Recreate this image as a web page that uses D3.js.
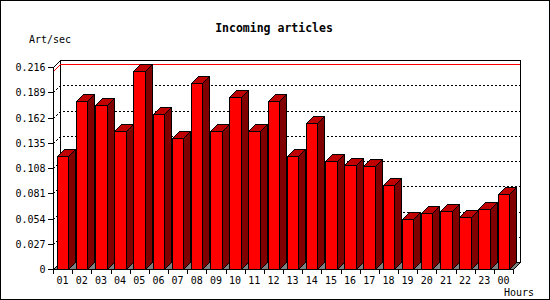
<!DOCTYPE html>
<html>
<head>
<meta charset="utf-8">
<script src="https://cdn.jsdelivr.net/npm/d3@7"></script>
<style>
html,body{margin:0;padding:0;background:#fff;}
svg{display:block;}
text{font-family:"DejaVu Sans Mono",monospace;}
</style>
</head>
<body>
<script>
const categories = ["01","02","03","04","05","06","07","08","09","10","11","12","13","14","15","16","17","18","19","20","21","22","23","00"];
const values = [0.121,0.180,0.175,0.148,0.2115,0.166,0.140,0.199,0.148,0.184,0.148,0.180,0.121,0.156,0.116,0.111,0.110,0.090,0.054,0.060,0.062,0.056,0.064,0.080];
const yTicks = [0,0.027,0.054,0.081,0.108,0.135,0.162,0.189,0.216];
const yTickLabels = ["0","0.027","0.054","0.081","0.108","0.135","0.162","0.189","0.216"];
const chartTitle = "Incoming articles";
const yTitle = "Art/sec";
const xTitle = "Hours";

const W = 550, H = 300;
const depth = 7;
const pLeft = 53, pRight = 513, pBottom = 269, pTop = 67;

const svg = d3.select("body").append("svg").attr("width", W).attr("height", H);

const x = d3.scaleBand().domain(categories).range([pLeft, pRight]);
const y = d3.scaleLinear().domain([0, 0.216]).range([pBottom, pTop]);

// outer border
svg.append("rect").attr("x",0.5).attr("y",0.5).attr("width",548.5).attr("height",298.5)
  .attr("fill","#fff").attr("stroke","#000").attr("shape-rendering","crispEdges");

svg.append("text").attr("x",274).attr("y",32).attr("text-anchor","middle")
  .attr("font-weight","bold").attr("font-size","11.5px").text(chartTitle);
svg.append("text").attr("x",29).attr("y",42.5).attr("font-size","10px").text(yTitle);
svg.append("text").attr("x",504).attr("y",295.5).attr("font-size","10px").text(xTitle);

const g = svg.append("g");

// back wall
g.append("rect").attr("x",pLeft+depth+0.5).attr("y",y(0.216)-depth+0.5)
  .attr("width",pRight-pLeft).attr("height",pBottom-pTop)
  .attr("fill","#fff").attr("stroke","#000").attr("shape-rendering","crispEdges");

// grid lines (dotted) on back wall + diagonals
const gridVals = yTicks.filter(v => v > 0 && v < 0.216);
g.selectAll(".grid").data(gridVals).enter().append("path")
  .attr("d", v => {
    const yf = Math.round(y(v)) + 0.5, yb = yf - depth;
    return `M${pLeft+0.5},${yf}L${pLeft+depth+0.5},${yb}L${pRight+depth+0.5},${yb}`;
  })
  .attr("fill","none").attr("stroke","#000").attr("stroke-dasharray","2,2")
  .attr("shape-rendering","crispEdges");

// top-left box edge
g.append("line").attr("x1",pLeft+0.5).attr("y1",Math.round(y(0.216))+0.5)
  .attr("x2",pLeft+depth+0.5).attr("y2",Math.round(y(0.216))-depth+0.5)
  .attr("stroke","#000").attr("shape-rendering","crispEdges");

// max line (red)
const maxV = d3.max(values);
{
  const yf = Math.round(y(maxV)) + 0.5, yb = yf - depth;
  g.append("path").attr("d",`M${pLeft+0.5},${yf}L${pLeft+depth+0.5},${yb}L${pRight+depth-0.5},${yb}`)
    .attr("fill","none").attr("stroke","#ff0000").attr("shape-rendering","crispEdges");
}

// floor
g.append("path")
  .attr("d",`M${pLeft+0.5},${pBottom+0.5}L${pLeft+depth+0.5},${pBottom-depth+0.5}L${pRight+depth+0.5},${pBottom-depth+0.5}L${pRight+0.5},${pBottom+0.5}Z`)
  .attr("fill","#808080").attr("stroke","#000").attr("shape-rendering","crispEdges");

// y axis (front)
g.append("line").attr("x1",pLeft+0.5).attr("x2",pLeft+0.5).attr("y1",Math.round(y(0.216))+0.5).attr("y2",pBottom+0.5)
  .attr("stroke","#000").attr("shape-rendering","crispEdges");
g.selectAll(".yt").data(yTicks).enter().append("line")
  .attr("x1",pLeft-5).attr("x2",pLeft+0.5)
  .attr("y1",v=>Math.round(y(v))+0.5).attr("y2",v=>Math.round(y(v))+0.5)
  .attr("stroke","#000").attr("shape-rendering","crispEdges");
g.selectAll(".yl").data(yTicks).enter().append("text")
  .attr("x",45.5).attr("y",v=>Math.round(y(v))+3.5)
  .attr("text-anchor","end").attr("font-size","10px")
  .text((v,i)=>yTickLabels[i]);

// x axis baseline
g.append("line").attr("x1",pLeft-5).attr("x2",pRight+0.5).attr("y1",pBottom+0.5).attr("y2",pBottom+0.5)
  .attr("stroke","#000").attr("shape-rendering","crispEdges");
const xTickPos = categories.map(c => x(c)).concat([pRight]);
g.selectAll(".xt").data(xTickPos).enter().append("line")
  .attr("x1",d=>Math.round(d)+0.5).attr("x2",d=>Math.round(d)+0.5)
  .attr("y1",pBottom).attr("y2",pBottom+5)
  .attr("stroke","#000").attr("shape-rendering","crispEdges");
g.selectAll(".xl").data(categories).enter().append("text")
  .attr("x",c=>x(c)+x.bandwidth()/2).attr("y",284)
  .attr("text-anchor","middle").attr("font-size","10px").text(c=>c);

// bars
const bars = g.selectAll(".bar").data(categories.map((c,i)=>({c,v:values[i]}))).enter().append("g");
bars.each(function(d){
  const sel = d3.select(this);
  const x0 = Math.round(x(d.c) + 3.7) + 0.5;
  const x1 = Math.round(x(d.c) + 3.7 + 11.6) + 0.5;
  const yt = Math.round(y(d.v)) + 0.5;
  const yb = pBottom + 0.5;
  sel.append("path").attr("d",`M${x0},${yb}L${x0},${yt}L${x1},${yt}L${x1},${yb}Z`)
    .attr("fill","#ff0000").attr("stroke","#000").attr("shape-rendering","crispEdges");
  sel.append("path").attr("d",`M${x0},${yt}L${x0+depth},${yt-depth}L${x1+depth},${yt-depth}L${x1},${yt}Z`)
    .attr("fill","#c00000").attr("stroke","#000").attr("shape-rendering","crispEdges");
  sel.append("path").attr("d",`M${x1},${yt}L${x1+depth},${yt-depth}L${x1+depth},${yb-depth}L${x1},${yb}Z`)
    .attr("fill","#800000").attr("stroke","#000").attr("shape-rendering","crispEdges");
});
</script>
</body>
</html>
